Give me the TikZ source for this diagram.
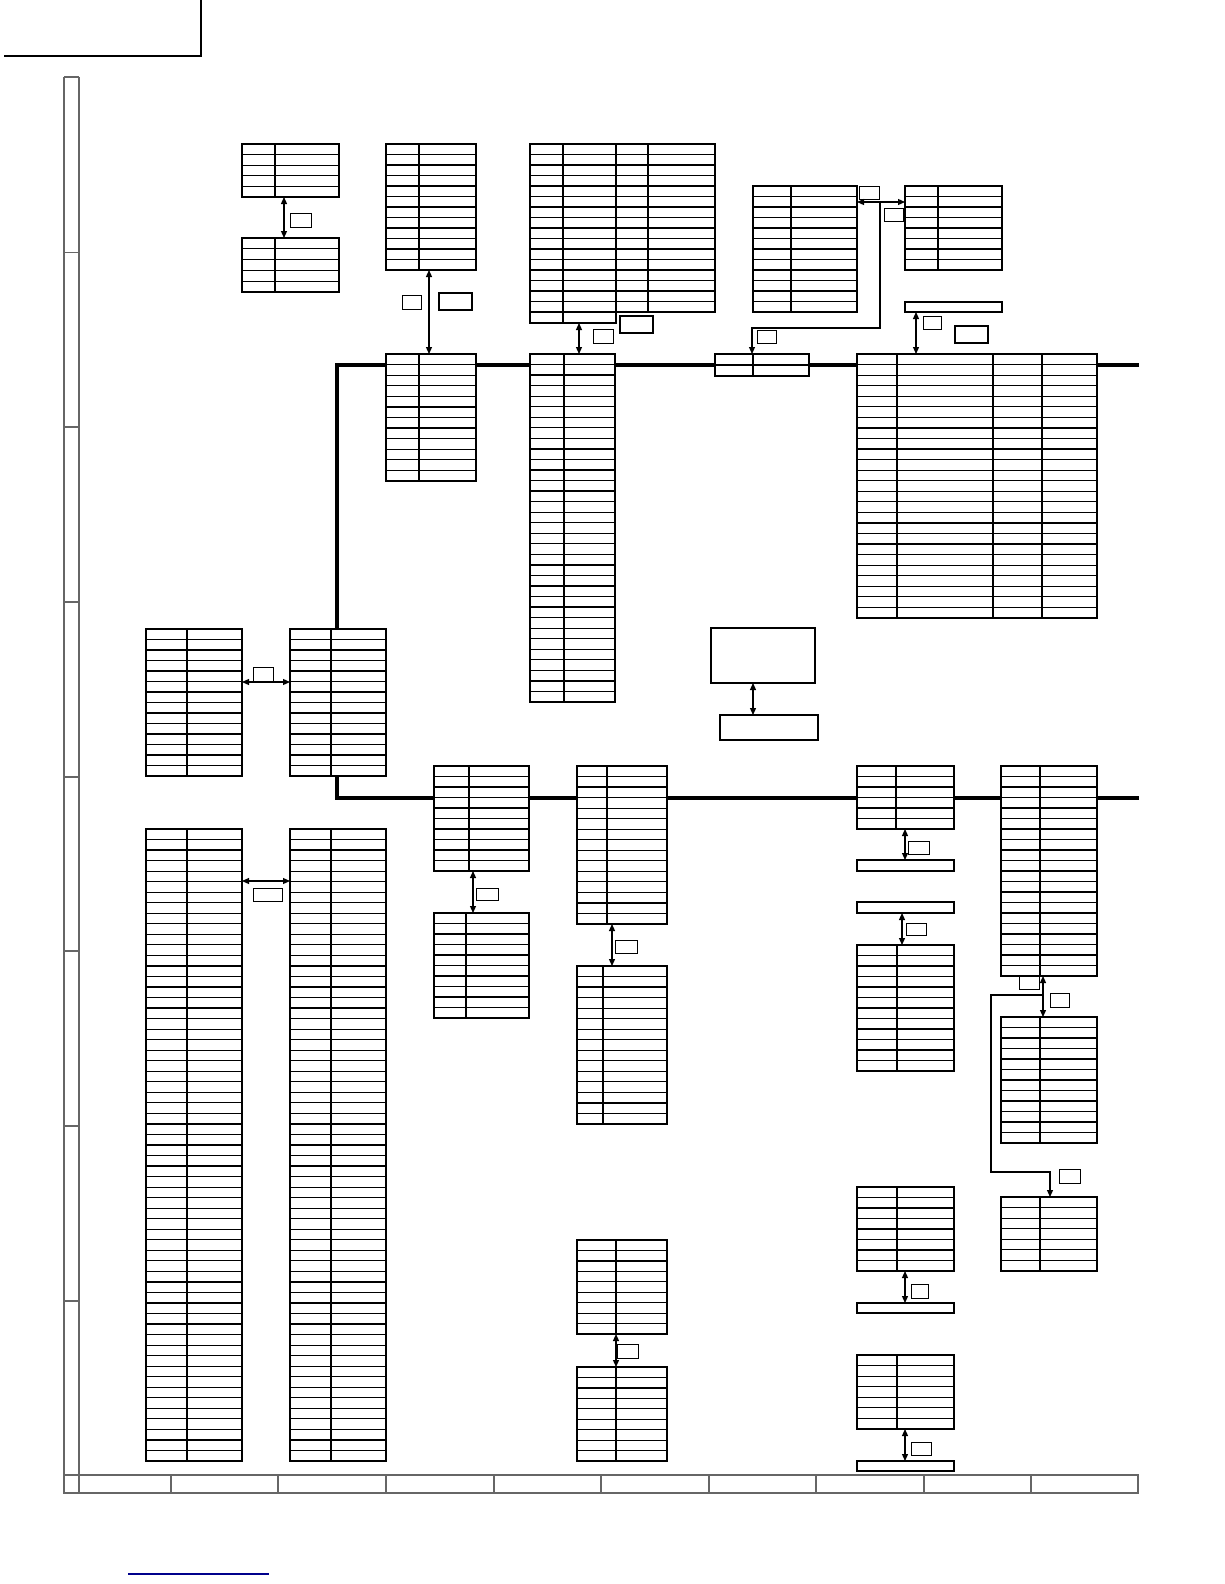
\documentclass[tikz,border=0pt]{standalone}
\usetikzlibrary{arrows.meta}
\newcommand\mktbl[7]{%
  \pgfmathsetmacro\tblw{#4-#2}%
  \pgfmathsetmacro\tblh{#5-#3}%
  \pgfmathsetmacro\tblr{\tblh/#6}%
  \pgfmathtruncatemacro\tbln{#6-1}%
  \node[tbl,anchor=north west,minimum width=\tblw pt,minimum height=\tblh pt] (#1) at (#2,#3) {};%
  \ifnum\tbln>0
    \foreach \i in {1,...,\tbln}{\draw[gl] (#2,{#3+\i*\tblr}) -- (#4,{#3+\i*\tblr});}%
  \fi
  \foreach \d in {#7}{\draw[gl] (\d,#3) -- (\d,#5);}%
}
\newcommand\mkbox[6]{%
  \pgfmathsetmacro\tblw{#4-#2}%
  \pgfmathsetmacro\tblh{#5-#3}%
  \node[#6,anchor=north west,minimum width=\tblw pt,minimum height=\tblh pt] (#1) at (#2,#3) {};%
}
\begin{document}
\begin{tikzpicture}[x=1pt,y=-1pt,
  tbl/.style={draw,line width=1.3pt,inner sep=0pt,outer sep=0pt,rectangle},
  gl/.style={line width=1.2pt},
  lbl/.style={draw,line width=1pt,inner sep=0pt,outer sep=0pt,rectangle},
  lblb/.style={draw,line width=2.2pt,inner sep=0pt,outer sep=0pt,rectangle},
  bus/.style={line width=3.3pt,line join=miter},
  dbl/.style={line width=1.2pt,{Triangle[length=7pt,width=6pt]}-{Triangle[length=7pt,width=6pt]}},
  sgl/.style={line width=1.2pt,-{Triangle[length=7pt,width=6pt]}},
  frm/.style={line width=1.3pt,draw=black!60}]
\useasboundingbox (0,0) rectangle (1224,1584);
\fill[white] (0,0) rectangle (1224,1584);

% corner mark and frame
\draw[line width=2.6pt] (4,56) -- (201,56) -- (201,0);
\draw[frm] (64,77) -- (64,1493) -- (1138,1493) -- (1138,1475) -- (64,1475);
\draw[frm] (79,77) -- (79,1493);
\draw[frm] (64,77) -- (79,77);
\foreach \yy in {252.5,427,602,777,951,1126,1301}{\draw[frm] (64,\yy) -- (79,\yy);}
\foreach \xx in {171,278,386,494,601,709,816,924,1031}{\draw[frm] (\xx,1475) -- (\xx,1493);}
\draw[line width=1.3pt,draw=blue!55!black] (128,1574) -- (269,1574);

% tables
\mktbl{t1}{242}{144}{339}{197}{5}{275}
\mktbl{t2}{242}{238}{339}{292}{5}{275}
\mktbl{t3}{386}{144}{476}{270}{12}{419}
\mktbl{t4}{386}{354}{476}{481}{12}{419}
\mktbl{t5}{530}{144}{715}{312}{16}{563,616,648}
\mktbl{t5x}{530}{312}{616}{323}{1}{563}
\mktbl{t6}{530}{354}{615}{702}{33}{564}
\mktbl{t7}{715}{354}{809}{376}{2}{753}
\mktbl{t8}{753}{186}{857}{312}{12}{791}
\mktbl{t9}{905}{186}{1002}{270}{8}{938}
\mkbox{b9}{905}{302}{1002}{312}{tbl}
\mktbl{t10}{857}{354}{1097}{618}{25}{897,993,1042}
\mktbl{t11}{146}{629}{242}{776}{14}{187}
\mktbl{t12}{290}{629}{386}{776}{14}{331}
\mktbl{t13}{146}{829}{242}{1461}{60}{187}
\mktbl{t14}{290}{829}{386}{1461}{60}{331}
\mktbl{t15}{434}{766}{529}{871}{10}{469}
\mktbl{t17}{434}{913}{529}{1018}{10}{466}
\mktbl{t16}{577}{766}{667}{924}{15}{607}
\mktbl{t18}{577}{966}{667}{1124}{15}{603}
\mkbox{bx1}{711}{628}{815}{683}{tbl}
\mkbox{bx2}{720}{715}{818}{740}{tbl}
\mktbl{t19}{857}{766}{954}{829}{6}{896}
\mkbox{b19}{857}{860}{954}{871}{tbl}
\mkbox{b20}{857}{902}{954}{913}{tbl}
\mktbl{t20}{857}{945}{954}{1071}{12}{897}
\mktbl{t21}{1001}{766}{1097}{976}{20}{1040}
\mktbl{t22}{1001}{1017}{1097}{1143}{12}{1040}
\mktbl{t23}{1001}{1197}{1097}{1271}{7}{1040}
\mktbl{t24}{577}{1240}{667}{1334}{9}{616}
\mktbl{t25}{577}{1367}{667}{1461}{9}{616}
\mktbl{t26}{857}{1187}{954}{1271}{8}{897}
\mkbox{b26}{857}{1303}{954}{1313}{tbl}
\mktbl{t27}{857}{1355}{954}{1429}{7}{897}
\mkbox{b27}{857}{1461}{954}{1471}{tbl}

% label boxes
\mkbox{l1}{290}{213}{311}{227}{lbl}
\mkbox{l2}{402}{295}{421}{309}{lbl}
\mkbox{l2b}{439}{293}{472}{310}{lblb}
\mkbox{l3}{593}{329}{613}{343}{lbl}
\mkbox{l3b}{620}{316}{653}{333}{lblb}
\mkbox{l4}{859}{186}{879}{199}{lbl}
\mkbox{l5}{884}{208}{903}{221}{lbl}
\mkbox{l6}{757}{330}{776}{343}{lbl}
\mkbox{l7}{923}{316}{941}{329}{lbl}
\mkbox{l7b}{955}{326}{988}{343}{lblb}
\mkbox{l8}{253}{667}{273}{681}{lbl}
\mkbox{l9}{253}{888}{282}{901}{lbl}
\mkbox{l10}{476}{888}{498}{900}{lbl}
\mkbox{l11}{615}{940}{637}{953}{lbl}
\mkbox{l12}{908}{841}{929}{854}{lbl}
\mkbox{l13}{906}{923}{926}{935}{lbl}
\mkbox{l14}{1019}{976}{1039}{989}{lbl}
\mkbox{l15}{1050}{993}{1069}{1007}{lbl}
\mkbox{l16}{1059}{1169}{1080}{1183}{lbl}
\mkbox{l17}{617}{1344}{638}{1358}{lbl}
\mkbox{l18}{911}{1284}{928}{1298}{lbl}
\mkbox{l19}{911}{1442}{931}{1455}{lbl}

% buses
\coordinate (u0) at (337,365);
\coordinate (u9) at (1139,365);
\draw[bus] (t12.north -| u0) -- (u0) -- (t4.west |- u0);
\draw[bus] (t4.east |- u0) -- (t6.west |- u0);
\draw[bus] (t6.east |- u0) -- (t7.west |- u0);
\draw[bus] (t7.east |- u0) -- (t10.west |- u0);
\draw[bus] (t10.east |- u0) -- (u9);
\coordinate (d0) at (337,798);
\coordinate (d9) at (1139,798);
\draw[bus] (t12.south -| d0) -- (d0) -- (t15.west |- d0);
\draw[bus] (t15.east |- d0) -- (t16.west |- d0);
\draw[bus] (t16.east |- d0) -- (t19.west |- d0);
\draw[bus] (t19.east |- d0) -- (t21.west |- d0);
\draw[bus] (t21.east |- d0) -- (d9);

% arrows
\coordinate (a1) at (284,0);   \draw[dbl] (t1.south -| a1) -- (t2.north -| a1);
\coordinate (a2) at (429,0);   \draw[dbl] (t3.south -| a2) -- (t4.north -| a2);
\coordinate (a3) at (579,0);   \draw[dbl] (t5x.south -| a3) -- (t6.north -| a3);
\coordinate (a4) at (0,202);   \draw[dbl] (t8.east |- a4) -- (t9.west |- a4);
\coordinate (a5a) at (880,202);
\coordinate (a5b) at (752,328);
\draw[sgl] (a5a) -- (a5a |- a5b) -- (a5b) -- (t7.north -| a5b);
\coordinate (a6) at (916,0);   \draw[dbl] (b9.south -| a6) -- (t10.north -| a6);
\coordinate (a7) at (0,682);   \draw[dbl] (t11.east |- a7) -- (t12.west |- a7);
\coordinate (a8) at (0,881);   \draw[dbl] (t13.east |- a8) -- (t14.west |- a8);
\coordinate (a9) at (473,0);   \draw[dbl] (t15.south -| a9) -- (t17.north -| a9);
\coordinate (a10) at (612,0);  \draw[dbl] (t16.south -| a10) -- (t18.north -| a10);
\coordinate (a11) at (753,0);  \draw[dbl] (bx1.south -| a11) -- (bx2.north -| a11);
\coordinate (a12) at (905,0);  \draw[dbl] (t19.south -| a12) -- (b19.north -| a12);
\coordinate (a13) at (902,0);  \draw[dbl] (b20.south -| a13) -- (t20.north -| a13);
\coordinate (a14) at (1043,0); \draw[dbl] (t21.south -| a14) -- (t22.north -| a14);
\coordinate (a15a) at (1043,995);
\coordinate (a15b) at (991,1172);
\coordinate (a15c) at (1050,1172);
\draw[sgl] (a15a) -- (a15a -| a15b) -- (a15b) -- (a15c) -- (t23.north -| a15c);
\coordinate (a16) at (616,0);  \draw[dbl] (t24.south -| a16) -- (t25.north -| a16);
\coordinate (a17) at (905,0);  \draw[dbl] (t26.south -| a17) -- (b26.north -| a17);
\coordinate (a18) at (905,0);  \draw[dbl] (t27.south -| a18) -- (b27.north -| a18);
\end{tikzpicture}
\end{document}
